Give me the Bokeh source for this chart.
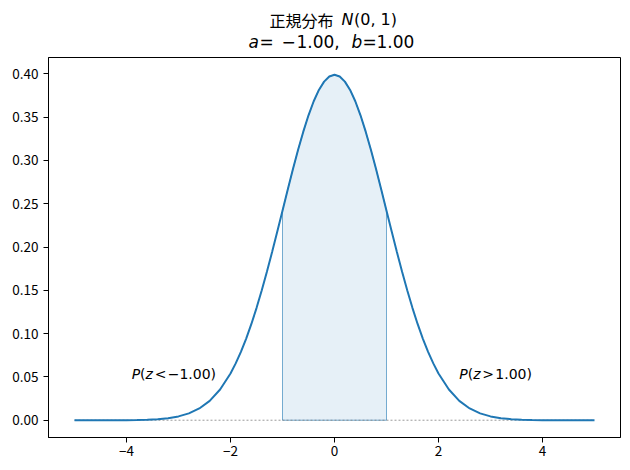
from bokeh.plotting import figure
from bokeh.models import Range1d, FixedTicker, Label
from bokeh.layouts import column
from bokeh.core.properties import value
from bokeh.embed import file_html
from bokeh.resources import INLINE

# ---- data (standard normal density) ----
z_values = [-5.0, -4.8, -4.6, -4.4, -4.2, -4.0, -3.8, -3.6, -3.4, -3.2, -3.0,
            -2.8, -2.6, -2.4, -2.2,
            -2.0, -1.9, -1.8, -1.7, -1.6, -1.5, -1.4, -1.3, -1.2, -1.1, -1.0,
            -0.9, -0.8, -0.7, -0.6, -0.5, -0.4, -0.3, -0.2, -0.1, 0.0,
            0.1, 0.2, 0.3, 0.4, 0.5, 0.6, 0.7, 0.8, 0.9, 1.0,
            1.1, 1.2, 1.3, 1.4, 1.5, 1.6, 1.7, 1.8, 1.9, 2.0,
            2.2, 2.4, 2.6, 2.8, 3.0, 3.2, 3.4, 3.6, 3.8, 4.0,
            4.2, 4.4, 4.6, 4.8, 5.0]
density = [0.0000, 0.0000, 0.0000, 0.0000, 0.0001, 0.0001, 0.0003, 0.0006, 0.0012, 0.0024, 0.0044,
           0.0079, 0.0136, 0.0224, 0.0355,
           0.0540, 0.0656, 0.0790, 0.0940, 0.1109, 0.1295, 0.1497, 0.1714, 0.1942, 0.2179, 0.2420,
           0.2661, 0.2897, 0.3123, 0.3332, 0.3521, 0.3683, 0.3814, 0.3910, 0.3970, 0.3989,
           0.3970, 0.3910, 0.3814, 0.3683, 0.3521, 0.3332, 0.3123, 0.2897, 0.2661, 0.2420,
           0.2179, 0.1942, 0.1714, 0.1497, 0.1295, 0.1109, 0.0940, 0.0790, 0.0656, 0.0540,
           0.0355, 0.0224, 0.0136, 0.0079, 0.0044, 0.0024, 0.0012, 0.0006, 0.0003, 0.0001,
           0.0001, 0.0000, 0.0000, 0.0000, 0.0000]
a_bound = -1.0
b_bound = 1.0
left_label_x = -3.9
right_label_x = 2.4
label_y = 0.05

x_ticks = [-4.0, -2.0, 0.0, 2.0, 4.0]
x_tick_labels = ["\u22124", "\u22122", "0", "2", "4"]
y_ticks = [0.0, 0.05, 0.10, 0.15, 0.20, 0.25, 0.30, 0.35, 0.40]
y_tick_labels = ["0.00", "0.05", "0.10", "0.15", "0.20", "0.25", "0.30", "0.35", "0.40"]

BLUE = "#1f77b4"
y_lo, y_hi = -0.01995, 0.41885
TITLE_H = 54
FL, FR = 48, 620   # frame left/right in page pixels

# ---- title strip (page-pixel coordinates, y downward) ----
t = figure(frame_width=FR - FL, frame_height=TITLE_H, output_backend="svg", toolbar_location=None,
           x_range=Range1d(FL, FR), y_range=Range1d(TITLE_H, 0),
           x_axis_type=None, y_axis_type=None,
           min_border_left=FL, min_border_right=630 - FR, min_border_top=0, min_border_bottom=0)
t.grid.visible = False
t.outline_line_color = None
t.background_fill_color = "white"
t.border_fill_color = "white"

cx = (FL + FR) / 2  # centre of the plot frame
L1, L2 = 19, 41

def tseg(x, y, text, font, italic, size):
    t.text(x=[x], y=[y], text=[text], text_font=value(font),
           text_font_style="italic" if italic else "normal",
           text_font_size=value(size), text_color="black",
           text_align="left", text_baseline="alphabetic")

tseg(cx - 65, L1, "正規分布", "Noto Sans CJK JP", False, "16px")
tseg(cx + 7, L1, "N", "DejaVu Sans", True, "16px")
tseg(cx + 19.5, L1, "(0, 1)", "DejaVu Sans", False, "16px")

tseg(cx - 86, L2, "a", "DejaVu Sans", True, "17px")
tseg(cx - 75, L2, "=", "DejaVu Sans", False, "17px")
tseg(cx - 53, L2, "\u2212", "DejaVu Sans", False, "17px")
tseg(cx - 38, L2, "%.2f," % abs(a_bound), "DejaVu Sans", False, "17px")
tseg(cx + 17, L2, "b", "DejaVu Sans", True, "17px")
tseg(cx + 28, L2, "=", "DejaVu Sans", False, "17px")
tseg(cx + 42, L2, "%.2f" % b_bound, "DejaVu Sans", False, "17px")

# ---- main plot ----
p = figure(frame_width=FR - FL, frame_height=380, output_backend="svg", toolbar_location=None,
           x_range=Range1d(-5.5, 5.5), y_range=Range1d(y_lo, y_hi),
           min_border_left=FL, min_border_right=630 - FR, min_border_top=57 - TITLE_H,
           min_border_bottom=33)
p.background_fill_color = "white"
p.border_fill_color = "white"
p.outline_line_color = "black"
p.outline_line_width = 1
p.grid.visible = False

for ax in (p.xaxis[0], p.yaxis[0]):
    ax.axis_line_color = "black"
    ax.major_tick_line_color = "black"
    ax.major_tick_out = 5
    ax.major_tick_in = 0
    ax.minor_tick_line_color = None
    ax.major_label_text_font = "Noto Sans CJK JP"
    ax.major_label_text_font_size = "13.5px"
    ax.major_label_text_color = "black"
    ax.major_label_standoff = 3
p.yaxis.major_label_standoff = 5

p.xaxis.ticker = FixedTicker(ticks=x_ticks)
p.xaxis.major_label_overrides = dict(zip(x_ticks, x_tick_labels))
p.yaxis.ticker = FixedTicker(ticks=y_ticks)
p.yaxis.major_label_overrides = dict(zip(y_ticks, y_tick_labels))

# shaded area a..b
sub_x = [x for x in z_values if a_bound <= x <= b_bound]
sub_y = [d for x, d in zip(z_values, density) if a_bound <= x <= b_bound]
p.patch([sub_x[0]] + sub_x + [sub_x[-1]], [0.0] + sub_y + [0.0],
        fill_color=BLUE, fill_alpha=0.11, line_color=BLUE, line_width=0.8, line_alpha=0.75)

# zero line
p.line([z_values[0], z_values[-1]], [0.0, 0.0], line_color="#808080", line_width=0.8,
       line_dash="2 2")

# density curve
p.line(z_values, density, line_color=BLUE, line_width=2)

# annotations P(z<a), P(z>b)
def add_seg(x, y, text, xoff, yoff, italic, size):
    p.add_layout(Label(x=x, y=y, x_offset=xoff, y_offset=yoff, text=text,
                       text_font="DejaVu Sans", text_font_style="italic" if italic else "normal",
                       text_font_size=size, text_color="black",
                       text_align="left", text_baseline="alphabetic"))

for lx, rel, rest in ((left_label_x, "<", "\u2212%.2f)" % abs(a_bound)),
                      (right_label_x, ">", "%.2f)" % b_bound)):
    add_seg(lx, label_y, "P", 0, 3, True, "14px")
    add_seg(lx, label_y, "(", 8.4, 3, False, "14px")
    add_seg(lx, label_y, "z", 13.9, 3, True, "14px")
    add_seg(lx, label_y, rel, 23, 3, False, "14px")
    add_seg(lx, label_y, rest, 36, 3, False, "14px")

layout = column(t, p, spacing=0)
open("out.html", "w").write(file_html(layout, INLINE))
